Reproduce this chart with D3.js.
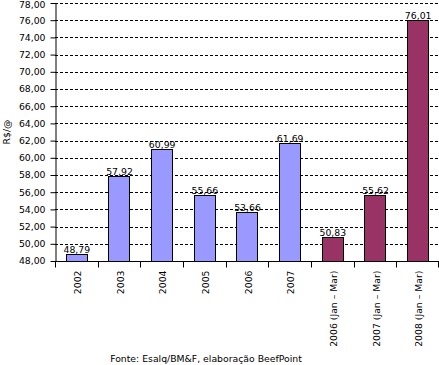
<!DOCTYPE html>
<html><head><meta charset="utf-8">
<script src="https://cdn.jsdelivr.net/npm/d3@7"></script>
<style>body{margin:0;background:#fff}svg{display:block}text{font-family:"DejaVu Sans",Verdana,sans-serif}</style>
</head><body><svg id="c" width="439" height="365"></svg>
<script>
const categories=["2002","2003","2004","2005","2006","2007","2006 (Jan – Mar)","2007 (Jan – Mar)","2008 (Jan – Mar)"];
const values=[48.79,57.92,60.99,55.66,53.66,61.69,50.83,55.62,76.01];
const colors=["#9999FF","#9999FF","#9999FF","#9999FF","#9999FF","#9999FF","#993366","#993366","#993366"];
const yTicks=d3.range(48,78.01,2);
const fmt=v=>v.toFixed(2).replace(".",",");
const FS=9.3;

const svg=d3.select("#c");
const x=d3.scaleBand().domain(categories).range([55,439]).paddingInner(0.5).paddingOuter(0.25);
const xb=d3.scaleBand().domain(categories).range([55,439]);
const y=d3.scaleLinear().domain([48,78]).range([261,3]);

// gridlines
svg.append("g").selectAll("line").data(yTicks.slice(1)).join("line")
 .attr("x1",55).attr("x2",439).attr("y1",d=>Math.round(y(d))+0.5).attr("y2",d=>Math.round(y(d))+0.5)
 .attr("stroke","#000").attr("stroke-dasharray","3,2").attr("stroke-width",1);

// bars
svg.append("g").selectAll("rect").data(values).join("rect")
 .attr("x",(d,i)=>Math.round(x(categories[i]))+0.5).attr("width",Math.round(x.bandwidth()))
 .attr("y",d=>Math.round(y(d))+0.5).attr("height",d=>Math.round(y(48))-Math.round(y(d)))
 .attr("fill",(d,i)=>colors[i]).attr("stroke","#000").attr("stroke-width",1);

// value labels
svg.append("g").selectAll("text").data(values).join("text")
 .attr("x",(d,i)=>x(categories[i])+x.bandwidth()/2+0.5).attr("y",d=>Math.round(y(d))-1)
 .attr("text-anchor","middle").attr("font-size",FS).text(fmt);

// y axis
const ya=svg.append("g").attr("transform","translate(55.5,0)")
 .call(d3.axisLeft(y).tickValues(yTicks).tickFormat(fmt).tickSize(5).tickSizeOuter(0));
ya.select(".domain").attr("stroke","#000");
ya.selectAll("text").attr("font-size",FS).attr("font-family","DejaVu Sans, Verdana, sans-serif").attr("fill","#000").attr("dx",-2);
ya.selectAll(".tick").filter(d=>d===78).select("text").attr("y",2);

// x axis
const xa=svg.append("g").attr("transform","translate(0,261.5)");
xa.append("line").attr("x1",55).attr("x2",439).attr("stroke","#000");
const edges=categories.map(c=>xb(c)).concat([439]);
xa.selectAll("line.t").data(edges).join("line").attr("class","t")
 .attr("x1",d=>Math.min(438,Math.round(d))+0.5).attr("x2",d=>Math.min(438,Math.round(d))+0.5).attr("y1",0).attr("y2",6).attr("stroke","#000");
xa.selectAll("text").data(categories).join("text")
 .attr("transform",c=>`translate(${xb(c)+xb.bandwidth()/2+4.5},9) rotate(-90)`)
 .attr("text-anchor","end").attr("font-size",FS).text(c=>c);

// y title
svg.append("text").attr("transform","translate(10,132) rotate(-90)").attr("text-anchor","middle")
 .attr("font-size",FS).text("R$/@");
// source
svg.append("text").attr("x",206).attr("y",362).attr("text-anchor","middle").attr("font-size",FS)
 .text("Fonte: Esalq/BM&F, elaboração BeefPoint");
</script></body></html>
